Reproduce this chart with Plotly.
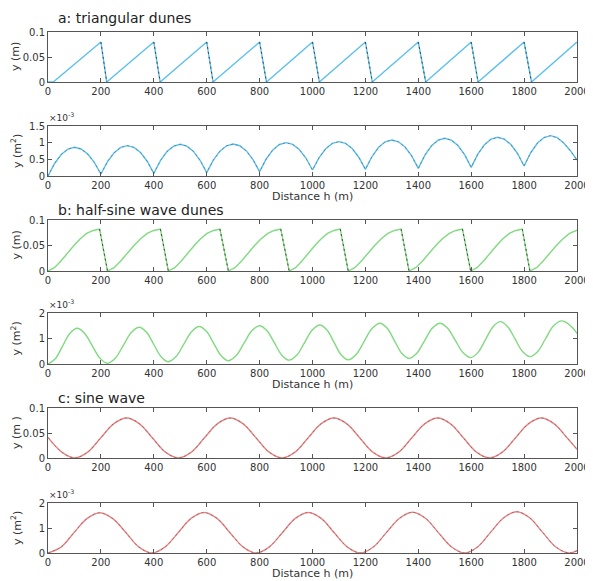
import plotly.graph_objects as go

# the html page adds an 8px body margin; figure is sized so it fills the 593x581 window
PAGE_W, PAGE_H, OFF = 593, 581, 8
W, H = PAGE_W - OFF, PAGE_H - OFF

# ---------------- data ----------------
x_ticks = [0, 200, 400, 600, 800, 1000, 1200, 1400, 1600, 1800, 2000]

# a: triangular dunes, elevation (m)
tri_x = [0, 20, 200, 222, 400, 424, 600, 624, 800, 826, 1000, 1026, 1200, 1226,
         1400, 1428, 1600, 1626, 1800, 1828, 2000]
tri_y = [0, 0, 0.08, 0, 0.08, 0, 0.08, 0, 0.08, 0, 0.08, 0, 0.08, 0,
         0.08, 0, 0.08, 0, 0.08, 0, 0.08]

# a: area (x1e-3 m^2)
tri_area_x = list(range(0, 2001, 25))
tri_area_y = [0, 0.376, 0.645, 0.806, 0.86, 0.81, 0.66, 0.41,
              0.06, 0.432, 0.698, 0.857, 0.91, 0.858, 0.703, 0.443,
              0.08, 0.461, 0.733, 0.896, 0.95, 0.897, 0.738, 0.472,
              0.10, 0.476, 0.745, 0.906, 0.96, 0.908, 0.753, 0.493,
              0.13, 0.511, 0.783, 0.946, 1.0, 0.949, 0.795, 0.539,
              0.18, 0.552, 0.818, 0.977, 1.03, 0.978, 0.823, 0.563,
              0.20, 0.585, 0.86, 1.025, 1.08, 1.027, 0.868, 0.602,
              0.23, 0.624, 0.905, 1.074, 1.13, 1.076, 0.913, 0.641,
              0.26, 0.654, 0.935, 1.104, 1.16, 1.106, 0.945, 0.676,
              0.30, 0.698, 0.983, 1.153, 1.21, 1.15, 0.99, 0.76,
              0.48]

# b: half-sine wave dunes, elevation (m)
hs_x = [0, 24, 49, 73, 98, 122, 146, 171, 195,
        225, 250, 275, 300, 325, 350, 375, 400, 425,
        455, 479, 504, 528, 553, 577, 601, 626, 650,
        682, 707, 732, 756, 781, 806, 831, 855, 880,
        912, 936, 960, 984, 1009, 1033, 1057, 1081, 1105,
        1135, 1160, 1185, 1210, 1235, 1260, 1285, 1310, 1335,
        1365, 1390, 1416, 1441, 1466, 1491, 1517, 1542, 1567,
        1598, 1622, 1647, 1671, 1696, 1720, 1744, 1769, 1793,
        1822, 1847, 1872, 1897, 1922, 1947, 1972, 2000]
hs_y = [0, 0.0066, 0.0197, 0.0353, 0.050, 0.0631, 0.0738, 0.0795, 0.082,
        0, 0.0066, 0.0197, 0.0353, 0.050, 0.0631, 0.0738, 0.0795, 0.082,
        0, 0.0066, 0.0197, 0.0353, 0.050, 0.0631, 0.0738, 0.0795, 0.082,
        0, 0.0066, 0.0197, 0.0353, 0.050, 0.0631, 0.0738, 0.0795, 0.082,
        0, 0.0066, 0.0197, 0.0353, 0.050, 0.0631, 0.0738, 0.0795, 0.082,
        0, 0.0066, 0.0197, 0.0353, 0.050, 0.0631, 0.0738, 0.0795, 0.082,
        0, 0.0066, 0.0197, 0.0353, 0.050, 0.0631, 0.0738, 0.0795, 0.082,
        0, 0.0066, 0.0197, 0.0353, 0.050, 0.0631, 0.0738, 0.0795, 0.082,
        0, 0.0066, 0.0197, 0.0353, 0.050, 0.0631, 0.0738, 0.0800]

# b: area (x1e-3 m^2)
hs_area_x = [0, 27.5, 55, 82.5, 110, 138.75, 167.5, 196.25, 225, 255, 285, 315,
             345, 372.5, 400, 427.5, 455, 484.25, 513.5, 542.75, 572, 599.5, 627,
             654.5, 682, 711.5, 741, 770.5, 800, 828, 856, 884, 912, 941, 970, 999,
             1028, 1054.75, 1081.5, 1108.25, 1135, 1165, 1195, 1225, 1255, 1282.5,
             1310, 1337.5, 1365, 1394.25, 1423.5, 1452.75, 1482, 1511, 1540, 1569,
             1598, 1626, 1654, 1682, 1710, 1738, 1766, 1794, 1822, 1851.5, 1881,
             1910.5, 1940, 1955, 1970, 1985, 2000]
hs_area_y = [0, 0.204, 0.70, 1.196, 1.40, 1.200, 0.715, 0.230, 0.03, 0.236, 0.735, 1.234,
             1.44, 1.243, 0.765, 0.287, 0.09, 0.291, 0.78, 1.269, 1.47, 1.274, 0.80,
             0.326, 0.13, 0.330, 0.815, 1.30, 1.50, 1.303, 0.825, 0.347, 0.15, 0.351, 0.84, 1.329,
             1.53, 1.330, 0.845, 0.360, 0.16, 0.370, 0.88, 1.390, 1.60, 1.399,
             0.91, 0.421, 0.22, 0.421, 0.91, 1.399, 1.60, 1.403, 0.925, 0.447,
             0.25, 0.456, 0.955, 1.454, 1.66, 1.460, 0.975, 0.490, 0.29, 0.494, 0.99,
             1.486, 1.69, 1.65, 1.55, 1.40, 1.2]

# c: sine wave, elevation (m)
sine_x = [0, 52, 101, 150, 199, 248, 297, 346, 395, 444, 493, 542, 591, 640, 689, 738,
          787, 836, 885, 934, 983, 1032, 1081, 1130, 1179, 1228, 1277, 1326, 1375, 1424,
          1473, 1522, 1571, 1620, 1669, 1718, 1767, 1816, 1865, 1914, 1963, 2000]
sine_y = [0.041, 0.0117, 0, 0.0117, 0.04, 0.0683, 0.08, 0.0683, 0.04, 0.0117, 0, 0.0117,
          0.04, 0.0683, 0.08, 0.0683, 0.04, 0.0117, 0, 0.0117, 0.04, 0.0683, 0.08, 0.0683,
          0.04, 0.0117, 0, 0.0117, 0.04, 0.0683, 0.08, 0.0683, 0.04, 0.0117, 0, 0.0117,
          0.04, 0.0683, 0.08, 0.0683, 0.04, 0.0176]

# c: area (x1e-3 m^2)
sine_area_x = [0, 49, 98, 147, 196, 245, 295, 344, 393, 442, 492, 541, 590, 639, 688, 738,
               787, 836, 886, 935, 984, 1033, 1082, 1132, 1181, 1230, 1279, 1329, 1378, 1427,
               1476, 1526, 1575, 1624, 1673, 1723, 1772, 1821, 1870, 1920, 1969, 2000]
sine_area_y = [0, 0.236, 0.81, 1.374, 1.61, 1.374, 0.81, 0.236, 0, 0.237, 0.81, 1.383,
               1.62, 1.383, 0.81, 0.237, 0, 0.237, 0.81, 1.383, 1.62, 1.383, 0.81, 0.237,
               0, 0.238, 0.815, 1.392, 1.63, 1.392, 0.815, 0.238, 0, 0.241, 0.825, 1.409,
               1.65, 1.409, 0.825, 0.241, 0, 0.09]

BLUE = "#5CC0EE"
GREEN = "#80DA80"
RED = "#EA8484"
DARK = "#3a3a3a"
AXC = "#555555"
FONT = "DejaVu Sans"


def px(x):
    return (x - OFF) / W


def py(y):
    return 1 - (y - OFF) / H


# panel pixel boxes (top, bottom) in page px from top
panels = [
    dict(top=32, bottom=82, yr=[0, 0.1], yt=[0, 0.05, 0.1], ytt=["0", "0.05", "0.1"],
         ylab="y (m)", sup=False, xlab=False),
    dict(top=126, bottom=176, yr=[0, 1.5], yt=[0, 0.5, 1, 1.5], ytt=["0", "0.5", "1", "1.5"],
         ylab="y (m<sup>2</sup>)", sup=True, xlab=True),
    dict(top=220, bottom=271, yr=[0, 0.1], yt=[0, 0.05, 0.1], ytt=["0", "0.05", "0.1"],
         ylab="y (m)", sup=False, xlab=False),
    dict(top=313, bottom=364, yr=[0, 2], yt=[0, 1, 2], ytt=["0", "1", "2"],
         ylab="y (m<sup>2</sup>)", sup=True, xlab=True),
    dict(top=408, bottom=458, yr=[0, 0.1], yt=[0, 0.05, 0.1], ytt=["0", "0.05", "0.1"],
         ylab="y (m )", sup=False, xlab=False),
    dict(top=503, bottom=553, yr=[0, 2], yt=[0, 1, 2], ytt=["0", "1", "2"],
         ylab="y (m<sup>2</sup>)", sup=True, xlab=True),
]
X0, X1 = 48, 577


def lee(xs, ys, thr):
    ox, oy = [], []
    for i in range(len(xs) - 1):
        if ys[i + 1] < ys[i] - thr:
            ox += [xs[i], xs[i + 1], None]
            oy += [ys[i], ys[i + 1], None]
    return ox, oy


fig = go.Figure()
layout = {}
annotations = []

for i, p in enumerate(panels):
    n = i + 1
    xa = "xaxis" if n == 1 else f"xaxis{n}"
    ya = "yaxis" if n == 1 else f"yaxis{n}"
    layout[xa] = dict(
        domain=[px(X0), px(X1)], anchor="y" if n == 1 else f"y{n}",
        range=[0, 2000], tickvals=x_ticks, ticks="inside", ticklen=4,
        tickcolor=AXC, showline=True, linecolor=AXC, linewidth=1, mirror="ticks",
        showgrid=False, zeroline=False, automargin=False, fixedrange=True,
        ticklabeloverflow="allow",
        tickfont=dict(family=FONT, size=10, color="#333"),
    )
    layout[ya] = dict(
        domain=[py(p["bottom"]), py(p["top"])], anchor="x" if n == 1 else f"x{n}",
        range=p["yr"], tickvals=p["yt"], ticktext=p["ytt"], ticks="inside", ticklen=4,
        tickcolor=AXC, showline=True, linecolor=AXC, linewidth=1, mirror="ticks",
        showgrid=False, zeroline=False, automargin=False, fixedrange=True,
        tickfont=dict(family=FONT, size=10, color="#333"),
    )
    annotations.append(dict(
        x=px(16), y=py((p["top"] + p["bottom"]) / 2), xref="paper", yref="paper",
        text=p["ylab"], textangle=-90, showarrow=False, xanchor="center", yanchor="middle",
        font=dict(family=FONT, size=11, color="#333")))
    if p["sup"]:
        annotations.append(dict(
            x=px(47), y=py(p["top"] - 1), xref="paper", yref="paper",
            text="×10<sup>-3</sup>", showarrow=False, xanchor="left", yanchor="bottom",
            font=dict(family=FONT, size=9, color="#333")))
    if p["xlab"]:
        annotations.append(dict(
            x=px((X0 + X1) / 2), y=py(p["bottom"] + 20), xref="paper", yref="paper",
            text="Distance h (m)", showarrow=False, xanchor="center", yanchor="middle",
            font=dict(family=FONT, size=11, color="#333")))


def ax(n):
    return ("x", "y") if n == 1 else (f"x{n}", f"y{n}")


def add_line(n, xs, ys, color, shape="linear", width=1.4):
    xr, yr = ax(n)
    fig.add_trace(go.Scatter(x=xs, y=ys, mode="lines", xaxis=xr, yaxis=yr,
                             line=dict(color=color, width=width, shape=shape),
                             showlegend=False, hoverinfo="skip"))


def add_dash(n, xs, ys, shape="linear", opacity=0.6):
    xr, yr = ax(n)
    fig.add_trace(go.Scatter(x=xs, y=ys, mode="lines", xaxis=xr, yaxis=yr, opacity=opacity,
                             line=dict(color=DARK, width=1, dash="2px,3px", shape=shape),
                             showlegend=False, hoverinfo="skip", connectgaps=False))


# panel 1
add_line(1, tri_x, tri_y, BLUE)
lx, ly = lee(tri_x, tri_y, 0.03)
add_dash(1, lx, ly, opacity=0.9)
# panel 2
add_line(2, tri_area_x, tri_area_y, BLUE)
add_dash(2, tri_area_x, tri_area_y, opacity=0.4)
# panel 3
add_line(3, hs_x, hs_y, GREEN)
lx, ly = lee(hs_x, hs_y, 0.03)
add_dash(3, lx, ly, opacity=0.9)
# panel 4
add_line(4, hs_area_x, hs_area_y, GREEN, shape="spline")
# panel 5
add_line(5, sine_x, sine_y, RED, shape="spline")
add_dash(5, sine_x, sine_y, shape="spline", opacity=0.4)
# panel 6
add_line(6, sine_area_x, sine_area_y, RED, shape="spline")
add_dash(6, sine_area_x, sine_area_y, shape="spline", opacity=0.4)

titles = [("a: triangular dunes", 18), ("b: half-sine wave dunes", 210), ("c: sine wave", 398)]
for t, ty in titles:
    annotations.append(dict(x=px(56), y=py(ty), xref="paper", yref="paper", text=t,
                            showarrow=False, xanchor="left", yanchor="middle",
                            font=dict(family=FONT, size=14, color="#222")))

fig.update_layout(
    width=W, height=H, margin=dict(l=0, r=0, t=0, b=0, autoexpand=False),
    paper_bgcolor="white", plot_bgcolor="white", showlegend=False,
    annotations=annotations, **layout,
)

fig.write_html("out.html")
